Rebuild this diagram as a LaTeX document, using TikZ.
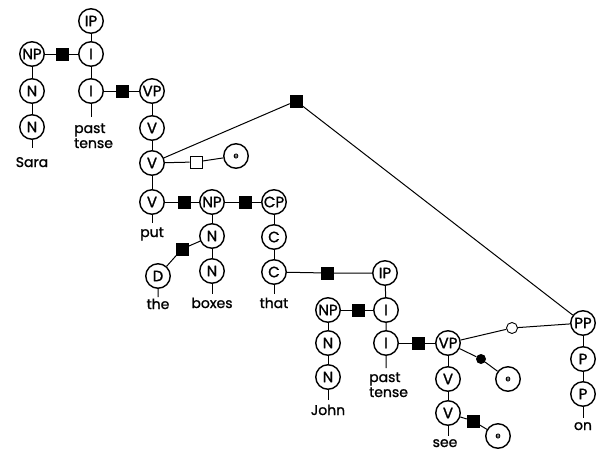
\documentclass[tikz,border=0pt]{standalone}
\usepackage{fontspec}
\setmainfont{Poppins}
\newfontfamily\lblfont{Poppins}[FakeBold=1.2]
\begin{document}
\begin{tikzpicture}[x=1pt,y=-1pt,
  cat/.style={circle,draw,line width=1.4pt,minimum size=24.5pt,inner sep=0pt,font=\lblfont\fontsize{15}{15}\selectfont,fill=white},
  ecirc/.style={circle,draw,line width=1.4pt,minimum size=24.5pt,inner sep=0pt,font=\lblfont\fontsize{8}{9}\selectfont,fill=white},
  blk/.style={rectangle,draw=black,fill=black,minimum size=12pt,inner sep=0pt},
  wsq/.style={rectangle,draw=black,line width=0.9pt,fill=white,minimum size=12pt,inner sep=0pt},
  bdot/.style={circle,fill=black,minimum size=10pt,inner sep=0pt},
  wdot/.style={circle,draw=black,line width=0.9pt,fill=white,minimum size=11pt,inner sep=0pt},
  word/.style={anchor=base,inner sep=0pt,font=\lblfont\fontsize{14}{15}\selectfont},
  wordl/.style={anchor=base west,inner sep=0pt,align=left,font=\lblfont\fontsize{14}{15}\selectfont},
  edge/.style={line width=1pt}]
\path[use as bounding box,fill=white] (0,0) rectangle (613,453);

% nodes
\node[cat] (IP1) at (91,21) {IP};
\node[cat] (I1) at (91,54) {I};
\node[blk] (sqA) at (62,54) {};
\node[cat] (NP1) at (32,54) {NP};
\node[cat] (N1) at (32,91) {N};
\node[cat] (N2) at (32,127) {N};
\coordinate (saraT) at (32,148);
\node[word] (sara) at (32,167) {Sara};
\node[cat] (I2) at (91,91) {I};
\coordinate (pt1T) at (91,117);
\node[wordl] (pt1) at (74,148) {past\\tense};
\node[blk] (sqB) at (122,91) {};
\node[cat] (VP1) at (152,91) {VP};
\node[cat] (V1) at (152,128) {V};
\node[cat] (V2) at (152,163) {V};
\node[wsq] (wsq) at (196,162) {};
\node[ecirc] (e1) at (236,156) {e};
\node[blk] (sqT) at (296,101) {};
\node[cat] (V3) at (152,202) {V};
\coordinate (putT) at (152,223);
\node[word] (put) at (152,237) {put};
\node[blk] (sqC) at (184,202) {};
\node[cat] (NP2) at (212,202) {NP};
\node[blk] (sqD) at (245,202) {};
\node[cat] (CP) at (274,202) {CP};
\node[cat] (N3) at (212,236) {N};
\node[blk] (sqE) at (182,249) {};
\node[cat] (D) at (158,276) {D};
\coordinate (theT) at (158,297);
\node[word] (the) at (158,309) {the};
\node[cat] (N4) at (212,271) {N};
\coordinate (boxT) at (212,294);
\node[word] (boxes) at (212,308) {boxes};
\node[cat] (C1) at (274,237) {C};
\node[cat] (C2) at (274,272) {C};
\coordinate (thatT) at (274,294);
\node[word] (that) at (274,308) {that};
\node[blk] (sqF) at (327,273) {};
\node[cat] (IP2) at (385,273) {IP};
\node[cat] (I3) at (386,310) {I};
\node[blk] (sqG) at (358,310) {};
\node[cat] (NP3) at (328,310) {NP};
\node[cat] (N5) at (328,343) {N};
\node[cat] (N6) at (328,377) {N};
\coordinate (johnT) at (328,400);
\node[word] (john) at (328,415) {John};
\node[cat] (I4) at (386,343) {I};
\coordinate (pt2T) at (386,368);
\node[wordl] (pt2) at (369,397) {past\\tense};
\node[blk] (sqH) at (418,343) {};
\node[cat] (VP2) at (448,343) {VP};
\node[cat] (V4) at (448,379) {V};
\node[cat] (V5) at (448,413) {V};
\coordinate (seeT) at (448,436);
\node[word] (see) at (445,447) {see};
\node[blk] (sqI) at (473,421) {};
\node[ecirc] (e3) at (498,436) {e};
\node[bdot] (bd) at (481,359) {};
\node[ecirc] (e2) at (508,379) {e};
\node[wdot] (wd) at (512,328) {};
\node[cat] (PP) at (583,323) {PP};
\node[cat] (P1) at (583,359) {P};
\node[cat] (P2) at (583,394) {P};
\coordinate (onT) at (583,418);
\node[word] (on) at (583,430) {on};

% edges
\begin{scope}[edge]
\draw (IP1) -- (I1) -- (I2) -- (pt1T);
\draw (NP1) -- (sqA) -- (I1);
\draw (NP1) -- (N1) -- (N2) -- (saraT);
\draw (I2) -- (sqB) -- (VP1);
\draw (VP1) -- (V1) -- (V2) -- (V3) -- (putT);
\draw (V2) -- (wsq) -- (e1);
\draw (V2) -- (sqT) -- (PP);
\draw (V3) -- (sqC) -- (NP2) -- (sqD) -- (CP);
\draw (NP2) -- (N3) -- (N4) -- (boxT);
\draw (N3) -- (sqE) -- (D) -- (theT);
\draw (CP) -- (C1) -- (C2) -- (thatT);
\draw (C2) -- (sqF) -- (IP2);
\draw (IP2) -- (I3) -- (I4) -- (pt2T);
\draw (NP3) -- (sqG) -- (I3);
\draw (NP3) -- (N5) -- (N6) -- (johnT);
\draw (I4) -- (sqH) -- (VP2);
\draw (VP2) -- (V4) -- (V5) -- (seeT);
\draw (V5) -- (sqI) -- (e3);
\draw (VP2) -- (bd) -- (e2);
\draw (VP2) -- (wd) -- (PP);
\draw (PP) -- (P1) -- (P2) -- (onT);
\end{scope}
\end{tikzpicture}
\end{document}
